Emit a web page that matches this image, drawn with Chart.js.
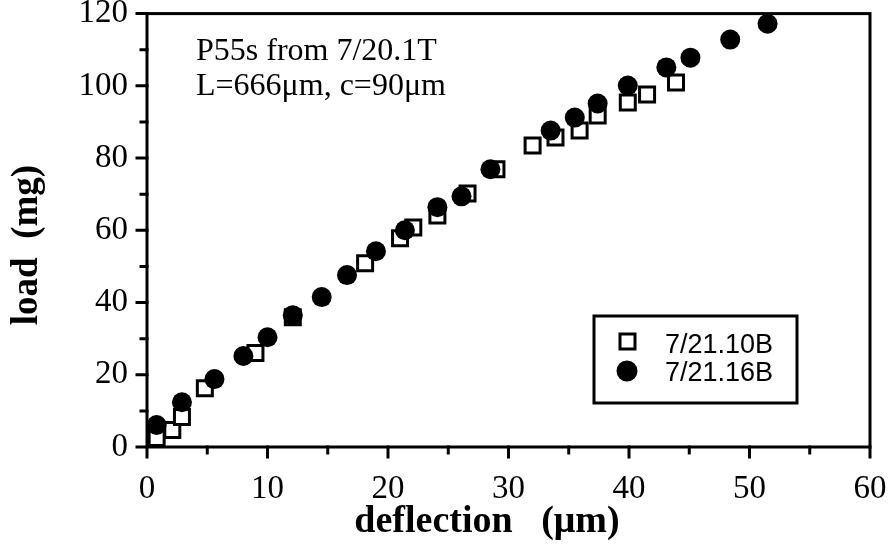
<!DOCTYPE html>
<html lang="en">
<head>
  <meta charset="UTF-8" />
  <title>Load vs deflection</title>
  <script src="https://cdn.jsdelivr.net/npm/chart.js"></script>
  <style>
    body {
      margin: 0;
      background: #fff;
    }
    .wrap {
      width: 888px;
      height: 545px;
    }
  </style>
</head>
<body>
  <div class="wrap">
    <canvas id="loadChart"></canvas>
  </div>

  <script>
    // deflection (µm) / load (mg) pairs for the two samples
    const deflection10B = [0.8, 2.1, 2.9, 4.8, 9.0, 12.1, 18.1, 21.0, 22.1, 24.1, 26.6, 29.0, 32.0, 33.9, 35.9, 37.4, 39.9, 41.5, 43.9];
    const load10B       = [2.5, 4.7, 8.3, 16.3, 26.0, 35.9, 50.9, 57.8, 60.8, 64.1, 70.2, 76.9, 83.5, 85.7, 87.6, 91.8, 95.4, 97.6, 100.9];

    const deflection16B = [0.8, 2.9, 5.6, 8.0, 10.0, 12.1, 14.5, 16.6, 19.0, 21.4, 24.1, 26.1, 28.5, 33.5, 35.5, 37.4, 39.9, 43.1, 45.1, 48.4, 51.5];
    const load16B       = [6.1, 12.4, 18.8, 25.2, 30.4, 36.5, 41.5, 47.6, 54.2, 60.0, 66.4, 69.4, 76.9, 87.6, 91.2, 95.1, 100.1, 105.1, 107.8, 112.8, 117.2];

    const seriesNames = ['7/21.10B', '7/21.16B'];
    const xTicks = [0, 10, 20, 30, 40, 50, 60];
    const yTicks = [0, 20, 40, 60, 80, 100, 120];
    const noteLines = ['P55s from 7/20.1T', 'L=666\u03bcm, c=90\u03bcm'];

    const serif = 'Liberation Serif';
    const pairs = (xs, ys) => xs.map((x, i) => ({ x: x, y: ys[i] }));

    // frame, tick marks, axis titles, note and legend box
    const framePlugin = {
      id: 'frame',
      beforeDatasetsDraw(chart) {
        const { ctx, chartArea: a, scales: { x, y } } = chart;
        ctx.save();
        ctx.strokeStyle = '#000';
        ctx.lineWidth = 3;
        ctx.lineCap = 'square';
        ctx.strokeRect(a.left, a.top, a.right - a.left, a.bottom - a.top);
        ctx.beginPath();
        for (let v = 0; v <= 60; v += 5) {
          const px = x.getPixelForValue(v);
          ctx.moveTo(px, a.bottom);
          ctx.lineTo(px, a.bottom + (v % 10 === 0 ? 10 : 6));
        }
        for (let v = 0; v <= 120; v += 10) {
          const py = y.getPixelForValue(v);
          ctx.moveTo(a.left, py);
          ctx.lineTo(a.left - (v % 20 === 0 ? 10 : 6), py);
        }
        ctx.stroke();
        ctx.restore();
      },
      afterDraw(chart) {
        const { ctx } = chart;
        ctx.save();
        ctx.fillStyle = '#000';

        // axis titles
        ctx.font = 'bold 38px ' + serif;
        ctx.textAlign = 'center';
        ctx.textBaseline = 'middle';
        ctx.fillText('deflection   (\u03bcm)', 487, 522);
        ctx.save();
        ctx.translate(27, 245);
        ctx.rotate(-Math.PI / 2);
        ctx.font = 'bold 37px ' + serif;
        ctx.fillText('load  (mg)', 0, 0);
        ctx.restore();

        // sample note
        ctx.font = '32px ' + serif;
        ctx.textAlign = 'left';
        ctx.textBaseline = 'alphabetic';
        ctx.fillText(noteLines[0], 196, 60);
        ctx.fillText(noteLines[1], 196, 95);

        // legend
        ctx.lineWidth = 3;
        ctx.strokeStyle = '#000';
        ctx.strokeRect(594, 316, 203, 87);
        ctx.fillStyle = '#fff';
        ctx.fillRect(620, 334, 15, 15);
        ctx.strokeRect(620, 334, 15, 15);
        ctx.fillStyle = '#000';
        ctx.beginPath();
        ctx.arc(627, 371, 10.5, 0, Math.PI * 2);
        ctx.fill();
        ctx.font = '27px "Liberation Sans"';
        ctx.fillText(seriesNames[0], 665, 353);
        ctx.fillText(seriesNames[1], 665, 381);
        ctx.restore();
      }
    };

    const ctx = document.getElementById('loadChart').getContext('2d');
    new Chart(ctx, {
      type: 'scatter',
      data: {
        datasets: [
          {
            label: seriesNames[0],
            data: pairs(deflection10B, load10B),
            pointStyle: 'rect',
            pointRadius: 10.6,
            pointHoverRadius: 10.6,
            backgroundColor: '#fff',
            borderColor: '#000',
            borderWidth: 3,
            order: 2,
            clip: false
          },
          {
            label: seriesNames[1],
            data: pairs(deflection16B, load16B),
            pointStyle: 'circle',
            pointRadius: 10,
            pointHoverRadius: 10,
            backgroundColor: '#000',
            borderColor: '#000',
            borderWidth: 0,
            order: 1,
            clip: false
          }
        ]
      },
      options: {
        responsive: true,
        maintainAspectRatio: false,
        animation: false,
        events: [],
        layout: { padding: { left: 0, right: 18, top: 13, bottom: 0 } },
        plugins: {
          legend: { display: false },
          tooltip: { enabled: false }
        },
        scales: {
          x: {
            type: 'linear',
            min: 0,
            max: 60,
            afterFit: s => {
              s.height = 98;
              s.paddingLeft = 0;
              s.paddingRight = 0;
            },
            afterBuildTicks: s => { s.ticks = xTicks.map(v => ({ value: v })); },
            grid: { display: false, drawTicks: false },
            border: { display: false },
            ticks: {
              color: '#000',
              padding: 23,
              maxRotation: 0,
              font: { family: serif, size: 33 }
            }
          },
          y: {
            type: 'linear',
            min: 0,
            max: 120,
            afterFit: s => {
              s.width = 147;
              s.paddingTop = 0;
              s.paddingBottom = 0;
            },
            afterBuildTicks: s => { s.ticks = yTicks.map(v => ({ value: v })); },
            grid: { display: false, drawTicks: false },
            border: { display: false },
            ticks: {
              color: '#000',
              padding: 19,
              font: { family: serif, size: 33 }
            }
          }
        }
      },
      plugins: [framePlugin]
    });
  </script>
</body>
</html>
